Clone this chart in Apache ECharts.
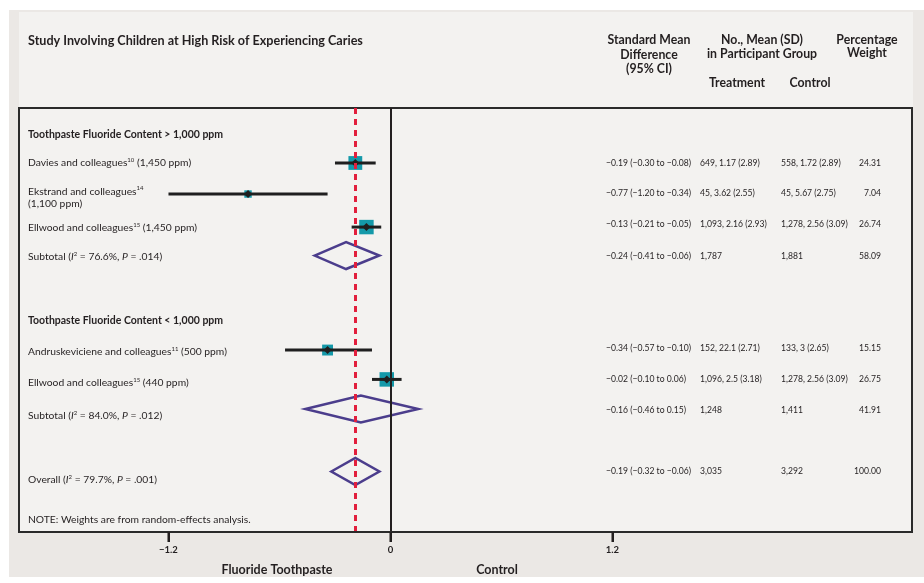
<!DOCTYPE html>
<html><head><meta charset="utf-8">
<script src="https://cdn.jsdelivr.net/npm/echarts@6/dist/echarts.min.js"></script>
<style>html,body{margin:0;padding:0;background:#fff}#c{width:924px;height:583px}</style>
</head><body><div id="c"></div>
<script>
// ---------------- data ----------------
const title = 'Study Involving Children at High Risk of Experiencing Caries';
const groupHeaders = ['Toothpaste Fluoride Content > 1,000 ppm', 'Toothpaste Fluoride Content < 1,000 ppm'];
const studyNames = ['Davies and colleagues', 'Ekstrand and colleagues', 'Ellwood and colleagues', 'Andruskeviciene and colleagues', 'Ellwood and colleagues'];
const studyRefs = ['10', '14', '15', '11', '15'];
const studyDoses = ['(1,450 ppm)', '(1,100 ppm)', '(1,450 ppm)', '(500 ppm)', '(440 ppm)'];
const smd = [-0.19, -0.77, -0.13, -0.34, -0.02];
const ciLow = [-0.30, -1.20, -0.21, -0.57, -0.10];
const ciHigh = [-0.08, -0.34, -0.05, -0.10, 0.06];
const treatment = ['649, 1.17 (2.89)', '45, 3.62 (2.55)', '1,093, 2.16 (2.93)', '152, 22.1 (2.71)', '1,096, 2.5 (3.18)'];
const control = ['558, 1.72 (2.89)', '45, 5.67 (2.75)', '1,278, 2.56 (3.09)', '133, 3 (2.65)', '1,278, 2.56 (3.09)'];
const weight = [24.31, 7.04, 26.74, 15.15, 26.75];

const pooledNames = ['Subtotal', 'Subtotal', 'Overall'];
const pooledI2 = ['76.6%', '84.0%', '79.7%'];
const pooledP = ['.014', '.012', '.001'];
const pooledSmd = [-0.24, -0.16, -0.19];
const pooledLow = [-0.41, -0.46, -0.32];
const pooledHigh = [-0.06, 0.15, -0.06];
const pooledTreat = ['1,787', '1,248', '3,035'];
const pooledControl = ['1,881', '1,411', '3,292'];
const pooledWeight = [58.09, 41.91, 100.00];

const xTicks = [-1.2, 0, 1.2];
const noteText = 'NOTE: Weights are from random-effects analysis.';
const xNameLeft = 'Fluoride Toothpaste';
const xNameRight = 'Control';
const colHeaders = ['Standard Mean\nDifference\n(95% CI)', 'No., Mean (SD)\nin Participant Group', 'Treatment', 'Control', 'Percentage\nWeight'];

// ---------------- layout (row slots, not data) ----------------
const studyRow = [0.915, 1.93, 3.01, 7.03, 7.99];
const studyLabelRow = [0.915, 2.04, 3.04, 7.08, 8.11];
const studyTextRow = [0.915, 1.90, 2.91, 6.96, 7.98];
const pooledRow = [3.94, 8.96, 11.0];
const pooledLabelRow = [3.98, 9.19, 11.28];
const pooledTextRow = [3.95, 8.99, 10.98];
const headerRow = [0, 6.08];
const noteRow = 12.59;
const Y_MIN = -0.8826, Y_MAX = 12.978;
const COL = { label: 28, ci: 606, treat: 700, ctrl: 781, weight: 881 };

const FONT = 'Lato, "Noto Sans", sans-serif';
const INK = '#231f20';

const fmt = v => (v < 0 ? '\u2212' : '') + Math.abs(v).toFixed(2);
const ciStr = (m, l, h) => `${fmt(m)} (${fmt(l)} to ${fmt(h)})`;

const rich = {
  n: { fontSize: 10.3, fontFamily: FONT, fill: INK, lineHeight: 12 },
  i: { fontSize: 10.3, fontFamily: FONT, fill: INK, fontStyle: 'italic', lineHeight: 12 },
  s: { fontSize: 6, fontFamily: FONT, fill: INK, verticalAlign: 'top' },
  b: { fontSize: 10.5, fontFamily: FONT, fill: INK, fontWeight: 'bold', lineHeight: 12 }
};

// build text rows
const textRows = [];
groupHeaders.forEach((h, k) => textRows.push({ row: headerRow[k], x: COL.label, align: 'left', text: `{b|${h}}` }));
studyNames.forEach((nm, k) => {
  const lbl = k === 1
    ? `{n|${nm}}{s|${studyRefs[k]}}\n{n|${studyDoses[k]}}`
    : `{n|${nm}}{s|${studyRefs[k]}}{n| ${studyDoses[k]}}`;
  textRows.push({ row: studyLabelRow[k], x: COL.label, align: 'left', text: lbl });
  textRows.push({ row: studyTextRow[k], x: COL.ci, align: 'left', text: ciStr(smd[k], ciLow[k], ciHigh[k]), small: true });
  textRows.push({ row: studyTextRow[k], x: COL.treat, align: 'left', text: treatment[k], small: true });
  textRows.push({ row: studyTextRow[k], x: COL.ctrl, align: 'left', text: control[k], small: true });
  textRows.push({ row: studyTextRow[k], x: COL.weight, align: 'right', text: weight[k].toFixed(2), small: true });
});
pooledNames.forEach((nm, k) => {
  textRows.push({ row: pooledLabelRow[k], x: COL.label, align: 'left',
    text: `{n|${nm} (}{i|I}{s|2}{n| = ${pooledI2[k]}, }{i|P}{n| = ${pooledP[k]})}` });
  textRows.push({ row: pooledTextRow[k], x: COL.ci, align: 'left', text: ciStr(pooledSmd[k], pooledLow[k], pooledHigh[k]), small: true });
  textRows.push({ row: pooledTextRow[k], x: COL.treat, align: 'left', text: pooledTreat[k], small: true });
  textRows.push({ row: pooledTextRow[k], x: COL.ctrl, align: 'left', text: pooledControl[k], small: true });
  textRows.push({ row: pooledTextRow[k], x: COL.weight, align: 'right', text: pooledWeight[k].toFixed(2), small: true });
});
textRows.push({ row: noteRow, x: COL.label, align: 'left', text: `{n|${noteText}}` });

const chart = echarts.init(document.getElementById('c'), null, { renderer: 'canvas' });

const H = { fontSize: 12.3, fontWeight: 'bold', fontFamily: FONT, fill: INK, align: 'center' };

// the page colour is the grey band; white margins and the lighter panel are painted on it
const baseGraphics = [
  { type: 'rect', z: -100, silent: true, shape: { x: 0, y: 0, width: 924, height: 10 }, style: { fill: '#ffffff' } },
  { type: 'rect', z: -100, silent: true, shape: { x: 0, y: 0, width: 9, height: 583 }, style: { fill: '#ffffff' } },
  { type: 'rect', z: -100, silent: true, shape: { x: 0, y: 577, width: 924, height: 6 }, style: { fill: '#ffffff' } },
  { type: 'rect', z: -99, silent: true, shape: { x: 19, y: 12, width: 894, height: 520 }, style: { fill: '#f3f2f0' } },
  { type: 'text', x: 28, y: 41, style: { text: title, fontSize: 12.6, fontWeight: 'bold', fontFamily: FONT, fill: INK, verticalAlign: 'middle' } },
  { type: 'text', x: 649, y: 33, style: Object.assign({ text: colHeaders[0], verticalAlign: 'top', lineHeight: 14.5 }, H) },
  { type: 'text', x: 762, y: 33, style: Object.assign({ text: colHeaders[1], verticalAlign: 'top', lineHeight: 14 }, H) },
  { type: 'text', x: 737, y: 83, style: Object.assign({ text: colHeaders[2], verticalAlign: 'middle' }, H) },
  { type: 'text', x: 810, y: 83, style: Object.assign({ text: colHeaders[3], verticalAlign: 'middle' }, H) },
  { type: 'text', x: 867, y: 33, style: Object.assign({ text: colHeaders[4], verticalAlign: 'top', lineHeight: 13.5 }, H) },
  { type: 'text', x: 277, y: 570, style: { text: xNameLeft, fontSize: 12.5, fontWeight: 'bold', fontFamily: FONT, fill: INK, align: 'center', verticalAlign: 'middle' } },
  { type: 'text', x: 497, y: 570, style: { text: xNameRight, fontSize: 12.5, fontWeight: 'bold', fontFamily: FONT, fill: INK, align: 'center', verticalAlign: 'middle' } }
];

const option = {
  animation: false,
  backgroundColor: '#ebe8e5',
  grid: { left: 19, right: 12, top: 108, bottom: 51, show: true, borderColor: '#2a2a2a', borderWidth: 2, backgroundColor: 'transparent', containLabel: false },
  xAxis: {
    type: 'value', min: -2.008, max: 2.819, position: 'bottom', z: 30,
    axisLine: { show: true, onZero: false, lineStyle: { color: '#2a2a2a', width: 2 } },
    splitLine: { show: false },
    axisTick: { show: true, customValues: xTicks, inside: false, length: 10, lineStyle: { color: INK, width: 2 } },
    axisLabel: { show: true, customValues: xTicks, margin: 13, fontSize: 9.5, fontWeight: 'bold', fontFamily: FONT, color: INK,
      formatter: v => (v < 0 ? '\u2212' : '') + (v === 0 ? '0' : Math.abs(v).toFixed(1)) }
  },
  yAxis: { type: 'value', inverse: true, min: Y_MIN, max: Y_MAX, show: false },
  graphic: { elements: baseGraphics },
  series: [
    {
      type: 'line', data: [], z: 1, silent: true,
      markLine: {
        symbol: 'none', silent: true, animation: false, label: { show: false },
        data: [
          { xAxis: 0, lineStyle: { color: INK, width: 2, type: 'solid' } },
          { xAxis: pooledSmd[2], lineStyle: { color: '#e21f3d', width: 3, type: [6, 5] } }
        ]
      }
    },
    {
      type: 'custom', z: 3, silent: true,
      data: smd.map((m, k) => [m, studyRow[k], ciLow[k], ciHigh[k], weight[k]]),
      renderItem: (params, api) => {
        const r = api.value(1);
        const p = api.coord([api.value(0), r]);
        const lo = api.coord([api.value(2), r]);
        const hi = api.coord([api.value(3), r]);
        const s = 2.8 * Math.sqrt(api.value(4));
        const d = 4;
        return {
          type: 'group', children: [
            { type: 'rect', shape: { x: p[0] - s / 2, y: p[1] - s / 2, width: s, height: s }, style: { fill: '#1499a9' } },
            { type: 'line', shape: { x1: lo[0], y1: lo[1], x2: hi[0], y2: hi[1] }, style: { stroke: '#1f1f1f', lineWidth: 3 } },
            { type: 'polygon', shape: { points: [[p[0] - d, p[1]], [p[0], p[1] - d], [p[0] + d, p[1]], [p[0], p[1] + d]] }, style: { fill: '#1f1f1f' } }
          ]
        };
      }
    },
    {
      type: 'custom', z: 2, silent: true,
      data: pooledSmd.map((m, k) => [m, pooledRow[k], pooledLow[k], pooledHigh[k]]),
      renderItem: (params, api) => {
        const r = api.value(1);
        const p = api.coord([api.value(0), r]);
        const lo = api.coord([api.value(2), r]);
        const hi = api.coord([api.value(3), r]);
        const h = 13.5;
        return {
          type: 'polygon',
          shape: { points: [[lo[0], lo[1]], [p[0], p[1] - h], [hi[0], hi[1]], [p[0], p[1] + h]] },
          style: { fill: 'none', stroke: '#4b3d8c', lineWidth: 2.5, lineJoin: 'miter' }
        };
      }
    },
    {
      type: 'custom', z: 4, silent: true, clip: false,
      data: textRows.map(t => [0, t.row]),
      renderItem: (params, api) => {
        const t = textRows[params.dataIndex];
        const y = api.coord([0, api.value(1)])[1];
        const style = t.small
          ? { text: t.text, fontSize: 8.6, fontFamily: FONT, fill: INK, align: t.align, verticalAlign: 'middle' }
          : { text: t.text, rich: rich, align: t.align, verticalAlign: 'middle', fontSize: 10.3, fontFamily: FONT, fill: INK };
        return { type: 'text', x: t.x, y: y, style: style };
      }
    }
  ]
};
chart.setOption(option);

// axis ticks below the box, positioned through the x scale
const tickEls = xTicks.map(v => {
  const p = chart.convertToPixel({ gridIndex: 0 }, [v, Y_MAX]);
  return { type: 'rect', z: 50, silent: true, shape: { x: p[0] - 1, y: p[1], width: 2, height: 10 }, style: { fill: INK } };
});
chart.setOption({ graphic: { elements: baseGraphics.concat(tickEls) } });
</script>
</body></html>
